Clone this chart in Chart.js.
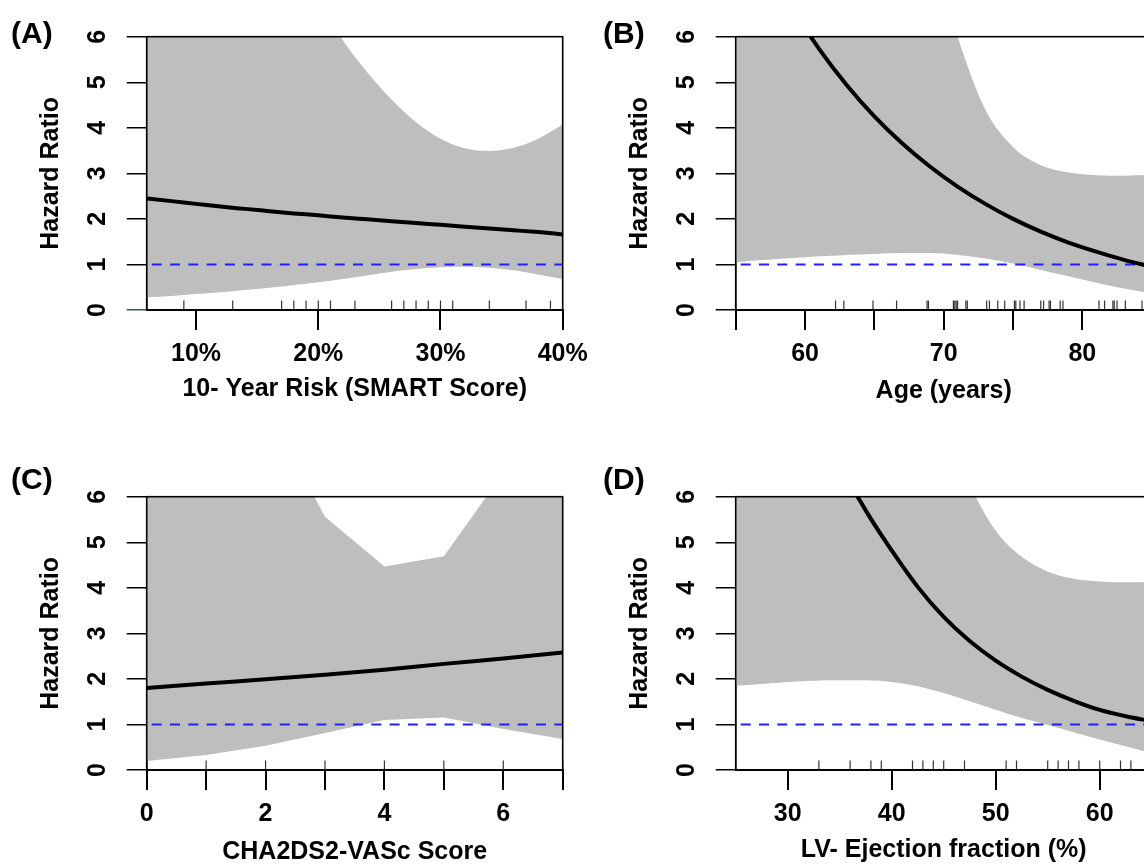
<!DOCTYPE html>
<html>
<head>
<meta charset="utf-8">
<script src="https://cdn.jsdelivr.net/npm/chart.js@4.4.1/dist/chart.umd.min.js"></script>
<style>
body{margin:0;width:1144px;height:866px;overflow:hidden;background:#fff;position:relative;font-family:"Liberation Sans",Arial,sans-serif;}
.panel{position:absolute;}
.tag{position:absolute;font-weight:bold;font-size:30px;line-height:30px;color:#000;white-space:nowrap;}
</style>
</head>
<body>
<div class="panel" style="left:0;top:0"><canvas id="cA" width="620" height="430"></canvas></div>
<div class="panel" style="left:589px;top:0"><canvas id="cB" width="620" height="430"></canvas></div>
<div class="panel" style="left:0;top:460px"><canvas id="cC" width="620" height="430"></canvas></div>
<div class="panel" style="left:589px;top:460px"><canvas id="cD" width="620" height="430"></canvas></div>
<div class="tag" style="left:11px;top:18px">(A)</div>
<div class="tag" style="left:603px;top:18px">(B)</div>
<div class="tag" style="left:11px;top:464px">(C)</div>
<div class="tag" style="left:603px;top:464px">(D)</div>
<script>
/* -------- DATA -------- */

const hrTicks = [0, 1, 2, 3, 4, 5, 6];

// (A) 10-year risk, SMART score (%)
const riskX   = [6, 8, 10, 12, 14, 16, 18, 20, 22, 24, 26, 28, 30, 32, 34, 36, 38, 40];
const riskHR  = [2.45, 2.39, 2.33, 2.27, 2.22, 2.17, 2.12, 2.08, 2.03, 1.99, 1.95, 1.91, 1.87, 1.83, 1.79, 1.75, 1.71, 1.66];
const riskLow = [0.28, 0.31, 0.35, 0.39, 0.44, 0.49, 0.55, 0.61, 0.68, 0.76, 0.84, 0.90, 0.94, 0.95, 0.93, 0.87, 0.78, 0.68];
const riskUpp = [20, 17, 14.5, 12.3, 10.5, 9.0, 7.8, 6.8, 5.93, 5.22, 4.62, 4.12, 3.76, 3.55, 3.49, 3.56, 3.76, 4.07];
const riskRug = [9, 13, 17, 18, 19, 20, 21, 23, 26, 27, 28, 29, 30, 31, 34, 37, 39];
const riskTicks = [10, 20, 30, 40];

// (B) age (years)
const ageX   = [55, 57, 59, 61, 63, 65, 67, 69, 71, 73, 75, 77, 79, 81, 83, 85];
const ageHR  = [9.0, 7.75, 6.67, 5.74, 4.94, 4.25, 3.66, 3.15, 2.71, 2.33, 2.0, 1.72, 1.48, 1.28, 1.1, 0.95];
const ageLow = [1.05, 1.10, 1.14, 1.18, 1.21, 1.23, 1.25, 1.25, 1.21, 1.13, 1.02, 0.88, 0.74, 0.60, 0.47, 0.36];
const ageUpp = [40, 32, 25, 20, 16, 13, 10.3, 8.0, 6.0, 4.4, 3.58, 3.18, 3.02, 2.96, 2.95, 2.97];
const ageRug = [62.2, 62.8, 64.9, 66.6, 68.8, 68.9, 70.7, 70.8, 70.9, 71.0, 71.6, 71.7, 73.1, 73.3, 73.9, 74.4,
                75.1, 75.2, 75.5, 75.8, 77.0, 77.2, 77.6, 77.7, 78.4, 78.6, 81.2, 81.6, 82.2, 82.3, 82.5, 83.1, 84.3];
const ageTicks = [55, 60, 65, 70, 75, 80, 85];
const ageLabels = [60, 70, 80];

// (C) CHA2DS2-VASc score
const chaX   = [0, 1, 2, 3, 4, 5, 6, 7];
const chaHR  = [1.80, 1.90, 1.99, 2.09, 2.20, 2.33, 2.45, 2.58];
const chaLow = [0.20, 0.33, 0.53, 0.81, 1.10, 1.15, 0.90, 0.68];
const chaUpp = [14, 10, 8.0, 5.56, 4.47, 4.69, 6.52, 8.5];
const chaRug = [0, 1, 2, 3, 4, 5, 6, 7];
const chaTicks = [0, 1, 2, 3, 4, 5, 6, 7];
const chaLabels = [0, 2, 4, 6];

// (D) LV ejection fraction (%)
const efX   = [25, 27.5, 30, 32.5, 35, 37.5, 40, 42.5, 45, 47.5, 50, 52.5, 55, 57.5, 60, 62.5, 65];
const efHR  = [15.3, 12.5, 10.2, 8.3, 6.75, 5.7, 4.82, 4.02, 3.36, 2.83, 2.40, 2.05, 1.76, 1.52, 1.32, 1.18, 1.07];
const efLow = [1.85, 1.89, 1.93, 1.96, 1.97, 1.97, 1.93, 1.84, 1.69, 1.51, 1.32, 1.14, 0.99, 0.83, 0.67, 0.52, 0.36];
const efUpp = [40, 34, 28.5, 23.5, 19, 15, 11.8, 9.3, 7.5, 6.25, 5.25, 4.68, 4.36, 4.2, 4.14, 4.12, 4.13];
const efRug = [33, 36, 38, 39, 42, 43, 44, 45, 47, 51, 52, 55, 56, 57, 58, 60, 62, 63];
const efTicks = [30, 40, 50, 60];

/* -------- HELPERS -------- */

Chart.defaults.font.family = '"Liberation Sans", Arial, sans-serif';
Chart.defaults.font.weight = 'bold';
Chart.defaults.color = '#000';

function pts(xs, ys){
return xs.map((x, i) => ({x: x, y: ys[i]}));
}

// short data ticks standing up from the x axis
const rugPlugin = {
id: 'rug',
afterDatasetsDraw(chart, args, opts){
const ctx = chart.ctx;
const x = chart.scales.x, y = chart.scales.y;
const y0 = y.getPixelForValue(0);
ctx.save();
ctx.strokeStyle = '#333';
ctx.lineWidth = 1.2;
opts.values.forEach(v => {
const px = x.getPixelForValue(v);
ctx.beginPath();
ctx.moveTo(px, y0);
ctx.lineTo(px, y0 - 9.5);
ctx.stroke();
});
ctx.restore();
}
};

// box round the plotting region
const framePlugin = {
id: 'frame',
afterDatasetsDraw(chart){
const ctx = chart.ctx, a = chart.chartArea;
ctx.save();
ctx.strokeStyle = '#000';
ctx.lineWidth = 1.6;
ctx.strokeRect(a.left, a.top, a.right - a.left, a.bottom - a.top);
ctx.restore();
}
};

function makePanel(id, p){

const curve = p.straight ? {tension: 0} : {cubicInterpolationMode: 'monotone'};

new Chart(document.getElementById(id), {
type: 'line',
data: {
datasets: [
Object.assign({data: pts(p.x, p.low), borderColor: 'rgba(0,0,0,0)', borderWidth: 0, pointRadius: 0, fill: false, order: 3, clip: 0}, curve),
Object.assign({data: pts(p.x, p.upp), borderColor: 'rgba(0,0,0,0)', borderWidth: 0, pointRadius: 0, fill: '-1', backgroundColor: '#bebebe', order: 2, clip: 0}, curve),
{data: [{x: p.min, y: 1}, {x: p.max, y: 1}], borderColor: '#2020ff', borderWidth: 2, borderDash: [10, 8.3], borderDashOffset: 13.3, pointRadius: 0, fill: false, order: 1, clip: 0},
{data: pts(p.x, p.hr), borderColor: '#000', borderWidth: 4, pointRadius: 0, fill: false, order: 0, clip: 0, cubicInterpolationMode: 'monotone'}
]
},
options: {
responsive: false,
animation: false,
layout: {padding: {left: 0, top: 15, right: 57.3, bottom: 0}},
plugins: {
legend: {display: false},
tooltip: {enabled: false},
rug: {values: p.rug}
},
scales: {
x: {
type: 'linear',
min: p.min,
max: p.max,
afterBuildTicks: s => { s.ticks = p.ticks.map(v => ({value: v})); },
afterFit: s => { s.height = 120; },
grid: {drawOnChartArea: false, tickLength: 20, color: '#000', lineWidth: 2},
border: {color: '#000', width: 2},
ticks: {
padding: 9.3, autoSkip: false, maxRotation: 0,
font: {size: 25, weight: 'bold'},
callback: v => p.labels.includes(v) ? p.fmt(v) : ''
},
title: {display: true, text: p.title, font: {size: 25, weight: 'bold'}, padding: {top: 0, bottom: p.titlePad}}
},
y: {
min: 0,
max: 6,
afterBuildTicks: s => { s.ticks = hrTicks.map(v => ({value: v})); },
afterFit: s => { s.width = 146.7; },
grid: {
drawOnChartArea: false, tickLength: 20, lineWidth: 1.5,
color: c => (p.zeroTick && c.tick && c.tick.value === 0) ? p.zeroTick : '#000'
},
border: {color: '#000', width: 1.5},
ticks: {
padding: 21.7, crossAlign: 'center', minRotation: 90, maxRotation: 90,
font: {size: 25, weight: 'bold'},
callback: v => String(v)
},
title: {display: true, text: 'Hazard Ratio', font: {size: 25, weight: 'bold'}, padding: {top: 36, bottom: 0}}
}
}
},
plugins: [rugPlugin, framePlugin]
});

}

/* -------- PANELS -------- */

makePanel('cA', {x: riskX, hr: riskHR, low: riskLow, upp: riskUpp, rug: riskRug, min: 5.96, max: 40,
ticks: riskTicks, labels: riskTicks, fmt: v => v + '%', title: '10- Year Risk (SMART Score)', titlePad: 25.5, zeroTick: '#1d5d80'});

makePanel('cB', {x: ageX, hr: ageHR, low: ageLow, upp: ageUpp, rug: ageRug, min: 55, max: 85,
ticks: ageTicks, labels: ageLabels, fmt: v => String(v), title: 'Age (years)', titlePad: 23.5});

makePanel('cC', {x: chaX, hr: chaHR, low: chaLow, upp: chaUpp, rug: chaRug, min: 0, max: 7, straight: true,
ticks: chaTicks, labels: chaLabels, fmt: v => String(v), title: 'CHA2DS2-VASc Score', titlePad: 22.5});

makePanel('cD', {x: efX, hr: efHR, low: efLow, upp: efUpp, rug: efRug, min: 25, max: 65,
ticks: efTicks, labels: efTicks, fmt: v => String(v), title: 'LV- Ejection fraction (%)', titlePad: 25});
</script>
</body>
</html>
